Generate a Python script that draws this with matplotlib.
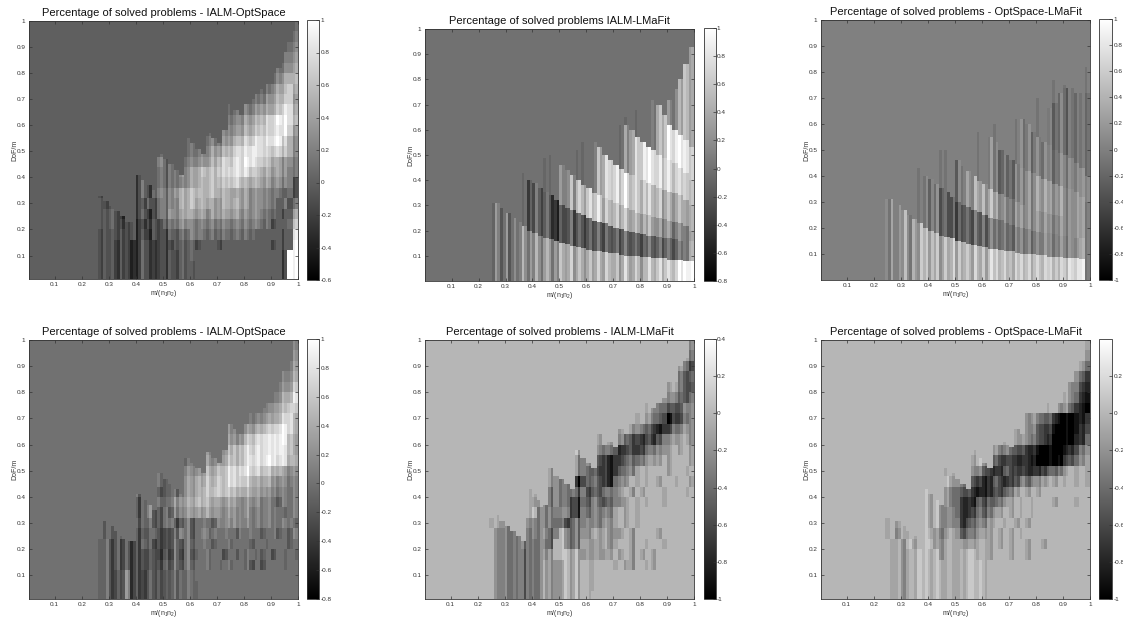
import numpy as np
import matplotlib
matplotlib.use("Agg")
import matplotlib.pyplot as plt

W, H = 1123, 618
plt.rcParams['font.family'] = ['Liberation Sans', 'DejaVu Sans']
plt.rcParams['mathtext.fontset'] = 'custom'
plt.rcParams['mathtext.rm'] = 'Liberation Sans'
plt.rcParams['mathtext.it'] = 'Liberation Sans'

n = np.nan
# Cell codes: '.'=0, '1'..'9'=+0.1..+0.9, 'X'=1, 'a'..'j'=-0.1..-1.0
# Rows run from DoF/m = 1.0 (top) to 0.0 in steps of 0.04; each row is right aligned to
# m/(n1 n2) = 1.0, columns are 0.02 wide and start at 0.24.
ialm_opt_top = [
"1", "2", "13", "124", "1235", "12456", "1134575", "112345674",
"1112234456885",
"11212234456789986",
"1112223345567788974",
"111122234567788899753",
"11.1112234456788988777653",
"21211223345677889977654332",
"a1a111223345666778888765544322",
"a1a11122234556666776555443322a",
".a.a....a1a122345566566555444333221.1a",
"..aa.a..aa1a1233556555445554433322.1a2",
"....ab.aa.ba1243454443444443333211.a.5",
"....aab.bba.b12233222222222222211a..17",
".a.aa.b.bab.ba1.11221111111111.....a.9",
".a.ab.bcb.abbaa....a...a.........a.a.X",
".a.ab.bcb.abba.a...................bXX",
".a.ab.bcb.abba.a..a................bXX",
".a.ab.bcb.abba.a..a................bXX",
]
ialm_opt_bot = [
"1", "2", "13", "124", "1236", "12458", "1134576", "112345784",
"1112345678984",
"11a12235678899963",
"1a11234567788899863",
"a1a122345567888998854",
"1a.a1122344567788776655322",
"a..1b.a1234455667776544432211",
"a1.a.bab.a12345566655544332211.1",
"a.aaab.1b1a1233455443333222211.a1.1",
"aabab.1ba.a1223333322222211111.a.1",
".a.a.b.a.aba.1ca.b.1.a12122111111.11a",
".a.b.bcbab.bcba2.b.2a1.1.a1.1.a.1a.a1",
".a.bbcbcb.bcbcb.b.a.1.a..a...a..a...a.",
".a.bbcbcbbcbcbc.c.ba.a..b.a.a.aa.b.a.a",
".a.bbcbcbbcbbab.b.a..a.a.a..ab.b...a..",
".a.bcb1cbcbbabaa.a....................",
".a.bcb1cbcbbabaa.a.a..................",
".a.bcb1cbcbbabaa.a.a..................",
]
ialm_lma_bot = [
"......ab", "......ac", ".....adf", "....acfd", "...aacfe", "a.bbcdfc",
".........a bcdefecb",
".......a.b cdfigfdb",
"....a.abce fhgfdcbb",
"a.a.bdefgf gecbbaab",
"........a. bdcegfegfd cbba.a.a",
"....a.bcbd eghgfdcdcb aa.a...a",
"aa.bbcbcde fghgdcba.a ...a..a.",
"........a. aabcdfhfdd eghdbb.a.a .a..a..a",
"......a.a. ccbcdcecfe edcca.a.a. ..a...a.",
"........b. ccbcdfgdec dfdcba.a.a ..a.....",
"...bb.a..b cbcbcfgcdc ccca.a.a.. ........",
"a.bbcb.bcb cbdcgdccbc cbba.a.a.. ........",
".bcbdc.ccb bdc1cdcbba aabba.a... .a......",
".bcbdcccdb cd.1cdcaab aaba..a..a ..a.....",
".bcbdcdcdb ba.1.a.bab aba.a.a.a. a.......",
".bcbdcdcdb aaba.a...a ...a.aa..a a.......",
".bcbdcdcdb aaba.a...a .......... ........",
".bcbdcdcdb aaba.a...a .......... ........",
".bcbdcdcdb aaba.a.... .......... ........",
]
opt_lma_bot = [
".......a", ".......b", "......ad", ".....bdg", "....bcfh", "...abdgi",
"a.bbdghj",
".....abbcd egijjihg",
"....aabcef gijjjigf",
"..a.abbdef hjjjjhgd",
"........ab bccdefghij jjjigfcb",
"......a.bc efgfghgijj jjigedba",
".a.a.bbcef hgeffgghgf edcb.a.a",
"........a. a.abcdeghg efhfecdcba aa.a.a.a",
"......a.a. abcdefgihg ffeca.a.a. ........",
"......a.a. bbcdghhefd ecba.a.a.. .a...a..",
"......a.a. bcbdghfdec ba.a.a.a.. ........",
"a.a.a.a.a. bcbcgfdcca a.a.a.a... ........",
"a.b.a.a..b cb.bedcbaa .a.a.a.... ........",
".a.b.a..1b ba.aabaa.a .a.a..a..a ........",
".a.ba.1... ba.a..1a.a ...a..a... ........",
".a.ba.1... .a.a..1... .......... ........",
".a.ba.1... .a.a..1... .......... ........",
".a.ba.1... .a.a..1... .......... ........",
".a.ba.1... .a.a..1... .......... ........",
]

# Top edge of the non-empty region per 0.02-wide column (x = 0.24, 0.26, ... 0.98)
top_ialm_opt_top = [.35,.33,.31,.29,.27,.25,.23,.23,.41,.39,.37,.35,.49,.47,.45,.43,.41,.55,.53,.51,
                    .49,.57,.55,.53,.58,.68,.66,.64,.70,.70,.76,.74,.80,.82,.82,.90,.92,1.0]
top_ialm_opt_bot = [0,.33,.31,.29,.27,.25,.23,.23,.41,.39,.37,.35,.49,.47,.45,.43,.41,.55,.53,.51,
                    .49,.57,.55,.53,.58,.68,.66,.64,.70,.72,.76,.74,.80,.82,.84,.90,.92,1.0]
top_ialm_lma_bot = [.35,.33,.31,.29,.27,.25,.23,.43,.41,.39,.37,.51,.49,.47,.45,.43,.58,.55,.53,.51,
                    .66,.63,.61,.59,.66,.64,.72,.72,.70,.76,.74,.79,.78,.84,.84,.90,.93,1.0]
top_opt_lma_bot = [.35,.33,.31,.29,.27,.25,.23,.43,.41,.39,.37,.51,.49,.47,.45,.43,.58,.55,.53,.51,
                   .66,.63,.61,.59,.66,.64,.74,.72,.74,.80,.78,.84,.84,.88,.90,.92,.96,1.0]

# Fine streaks per 0.01-wide column, added to the cell value (same codes)
streak_ialm_opt_top = "..a.a.1.a.b1.a.b.1a.b.a.1.b.a.a.1a.1.a.1.a.1a.a1..a.1.a1.a.1..a1.a.1.a1..a."
streak_ialm_lma_top = "a2.b.2c.2a.3.c.b2.b.2.c.b2.a.3b.2.b.2a.3.b2.a.2b.3.a.2.b1.3.a.2b.2.b.2.1.a."
streak_opt_lma_top = "b2a.2a3.b2.b3.2a2.3b.2a.3b2a.2.b3.a2b.3.2a.2a.b2.2a.2b.2.a2.1b.a2.b1.a1.1a."
streak_ialm_opt_bot = "...a1.b.2a.2.b.1b.a.2.a.b.1a.2a.a.2.a.1a.2.a.1.a.2.1a.a.2.a.1a..1a.a.1.a.1."
streak_ialm_lma_bot = "..a...b.1a.1b.a1.b.1a.b..a.1.a.1b...a.1.a.1.a..a.a..b...a.1.a.a..a.1.a.1.a."
streak_opt_lma_bot = "..a..a.1.a...1.a.1.a.1.a...a.1.a.1.a.a.1.a.1.a.a.1.a.1.a.a.1.a.a.1.a...a.."

# Curved bands of the two upper panels: band tops and band levels per 0.02-wide column
curve1 = [.31,.31,.29,.27,.25,.235,.22,.20,.19,.18,.17,.165,.16,.15,.145,.14,.135,.13,.125,.12,
          .118,.115,.11,.108,.105,.10,.10,.098,.096,.094,.092,.09,.088,.086,.085,.084,.08,.08]
curve2 = [n,n,n,n,n,n,n,.40,.39,.37,.355,.34,.32,.30,.29,.28,.27,.26,.25,.24,
          .235,.23,.22,.21,.205,.20,.195,.19,.185,.18,.178,.175,.17,.168,.165,.16,.16,.16]
curve3 = [n,n,n,n,n,n,n,n,n,n,n,n,n,.46,.44,.42,.40,.38,.37,.35,
          .34,.33,.32,.31,.30,.29,.28,.27,.265,.26,.255,.25,.245,.24,.235,.23,.22,.20]
curve4 = [n,n,n,n,n,n,n,n,n,n,n,n,n,n,n,n,n,n,n,.55,
          .53,.50,.48,.46,.445,.43,.42,.41,.40,.39,.38,.37,.36,.355,.35,.34,.32,.30]
curve5 = [n,n,n,n,n,n,n,n,n,n,n,n,n,n,n,n,n,n,n,n,
          n,n,n,n,n,.62,.60,.57,.55,.53,.52,.50,.49,.48,.47,.45,.43,.40]
curve6_lma = [n,n,n,n,n,n,n,n,n,n,n,n,n,n,n,n,n,n,n,n,
              n,n,n,n,n,n,n,n,n,n,.72,.70,.66,.62,.60,.58,.56,.53]
curve7_lma = [n,n,n,n,n,n,n,n,n,n,n,n,n,n,n,n,n,n,n,n,
              n,n,n,n,n,n,n,n,n,n,n,n,n,.72,.76,.80,.86,.93]
curve6_opt = [n,n,n,n,n,n,n,n,n,n,n,n,n,n,n,n,n,n,n,n,
              n,n,n,n,n,n,n,n,n,n,.66,.68,.72,.74,.74,.72,.72,.72]

lma_level1 = [.0,.1,.0,.1,.0,.1,.2,.3,.3,.2,.3,.3,.3,.4,.4,.4,.4,.4,.4,.4,
              .4,.5,.5,.4,.4,.5,.4,.5,.4,.5,.5,.6,.6,.6,.7,.8,.9,1.0]
lma_level2 = [n,n,n,n,n,n,n,-.1,-.1,-.15,-.15,-.2,-.4,-.3,-.2,-.2,-.2,-.2,-.2,-.2,
              -.2,-.15,-.15,-.15,-.15,-.15,-.15,-.15,-.15,-.15,-.15,-.1,-.1,-.1,-.1,-.05,.0,.5]
lma_level3 = [n,n,n,n,n,n,n,n,n,n,n,n,n,.1,.2,.3,.5,.5,.6,.6,
              .6,.5,.5,.5,.5,.4,.4,.4,.4,.3,.3,.2,.2,.2,.1,.1,.0,.4]
lma_level4 = [n,n,n,n,n,n,n,n,n,n,n,n,n,n,n,n,n,n,n,.1,
              .3,.6,.7,.7,.7,.7,.6,.6,.6,.5,.5,.5,.4,.4,.4,.4,.3,.5]
lma_level5 = [n,n,n,n,n,n,n,n,n,n,n,n,n,n,n,n,n,n,n,n,
              n,n,n,n,n,.1,.4,.6,.8,.8,.8,.7,.7,.7,.7,.6,.6,.6]
lma_level6 = [n,n,n,n,n,n,n,n,n,n,n,n,n,n,n,n,n,n,n,n,
              n,n,n,n,n,n,n,n,n,n,.1,.4,.6,.8,.9,.8,.8,.7]
lma_level7 = [n,n,n,n,n,n,n,n,n,n,n,n,n,n,n,n,n,n,n,n,
              n,n,n,n,n,n,n,n,n,n,n,n,n,.1,.2,.3,.5,.4]

opt_level1 = [.1,.1,.0,.2,.1,.2,.3,.4,.3,.3,.3,.4,.4,.4,.4,.4,.4,.4,.4,.5,
              .5,.5,.5,.5,.5,.5,.5,.5,.5,.5,.6,.6,.5,.6,.7,.7,.8,.0]
opt_level2 = [n,n,n,n,n,n,n,-.1,-.15,-.15,-.2,-.3,-.4,-.35,-.3,-.3,-.25,-.25,-.2,-.15,
              -.15,-.1,-.1,-.1,-.05,-.05,-.05,-.05,-.05,.05,.05,.05,.05,.05,.1,.1,.3,.0]
opt_level3 = [n,n,n,n,n,n,n,n,n,n,n,n,n,-.1,.0,.1,.2,.3,.3,.3,
              .2,.1,.05,.05,.1,.1,.1,.1,.1,.1,.1,.1,.1,.1,.1,.2,.2,.0]
opt_level4 = [n,n,n,n,n,n,n,n,n,n,n,n,n,n,n,n,n,n,n,-.05,
              -.1,-.2,-.15,-.1,-.05,.0,.1,.1,.2,.2,.2,.2,.2,.1,.1,.2,.2,.0]
opt_level5 = [n,n,n,n,n,n,n,n,n,n,n,n,n,n,n,n,n,n,n,n,
              n,n,n,n,n,-.05,-.05,-.05,-.05,-.05,.0,-.05,.0,.05,.05,.05,.1,.1]
opt_level6 = [n,n,n,n,n,n,n,n,n,n,n,n,n,n,n,n,n,n,n,n,
              n,n,n,n,n,n,n,n,n,n,-.05,-.1,-.1,-.15,-.1,-.1,-.1,-.1]

# Thin faint spikes rising above the bands (0 = none), per 0.02-wide column
spike_lma = [0,0,0,0,0,0,.43,0,0,0,.49,.50,0,0,0,0,.52,.55,0,0,0,0,0,0,.62,.65,0,.68,0,0,0,0,0,0,0,0,0,0]
spike_opt = [0,0,0,0,0,0,.43,0,0,0,.50,.50,0,0,0,0,0,.57,0,0,.60,0,0,0,.62,0,0,0,.70,0,0,.77,0,.75,0,0,0,.82]

titles = ["Percentage of solved problems - IALM-OptSpace",
          "Percentage of solved problems IALM-LMaFit",
          "Percentage of solved problems - OptSpace-LMaFit",
          "Percentage of solved problems - IALM-OptSpace",
          "Percentage of solved problems - IALM-LMaFit",
          "Percentage of solved problems - OptSpace-LMaFit"]
vmins = [-0.6, -0.8, -1.0, -0.8, -1.0, -1.0]
vmaxs = [1.0, 1.0, 1.0, 1.0, 0.4, 0.4]
cbar_ticks = [np.arange(-6, 11, 2) / 10, np.arange(-8, 11, 2) / 10, np.arange(-10, 11, 2) / 10,
              np.arange(-8, 11, 2) / 10, np.arange(-10, 5, 2) / 10, np.arange(-10, 3, 2) / 10]
boxes = [(29, 298, 21, 279, 307, 319, 20, 280),
         (425, 694, 29, 281, 703.5, 715.5, 28, 281),
         (821, 1090, 20, 280, 1099, 1112, 19, 280),
         (29, 298, 340, 599, 307, 319, 339, 599),
         (425, 694, 340, 599, 703.5, 715.5, 339, 599),
         (821, 1090, 340, 599, 1099, 1112, 339, 599)]
xlows = [0.005, 0.001, 0.002, 0.005, 0.005, 0.005]
ylows = [0.01, 0.0, 0.0, 0.01, 0.01, 0.01]

CODES = {'.': 0.0, 'X': 1.0}
CODES.update({str(i): i / 10 for i in range(1, 10)})
CODES.update({c: -(i + 1) / 10 for i, c in enumerate("abcdefghij")})

NCOL = 38
NY = 200
x_edges = np.concatenate([[0.0], np.linspace(0.24, 1.0, 2 * NCOL + 1)])
y_edges = np.linspace(1.0, 0.0, NY + 1)
y_mid = (y_edges[:-1] + y_edges[1:]) / 2


def decode_streak(s):
    s = s.rjust(2 * NCOL, ".")[:2 * NCOL]
    return np.array([CODES[c] for c in s])


def from_rows(rows, top, streak):
    s = decode_streak(streak)
    Z = np.zeros((NY, 2 * NCOL))
    for r, row in enumerate(rows):
        cells = row.replace(" ", "").rjust(NCOL, ".")[-NCOL:]
        for c, ch in enumerate(cells):
            ymax, ymin = 1.0 - 0.04 * r, 1.0 - 0.04 * (r + 1)
            mask = (y_mid <= ymax) & (y_mid > ymin) & (y_mid <= top[c])
            for f in (2 * c, 2 * c + 1):
                val = CODES[ch]
                if val != 0 or c < 19:
                    val = val + s[f]
                Z[mask, f] = val
    return Z


def from_bands(curves, levels, spikes, streak, spike_val):
    s = decode_streak(streak)
    Z = np.zeros((NY, 2 * NCOL))
    for c in range(NCOL):
        low = 0.0
        for cv, lv in zip(curves, levels):
            if np.isnan(cv[c]):
                continue
            mask = (y_mid > low) & (y_mid <= cv[c])
            for f in (2 * c, 2 * c + 1):
                Z[mask, f] = lv[c] + s[f]
            low = max(low, cv[c])
        if spikes[c] > low:
            Z[(y_mid > low) & (y_mid <= spikes[c]), 2 * c] = spike_val
    return Z


grids = [
    from_rows(ialm_opt_top, top_ialm_opt_top, streak_ialm_opt_top),
    from_bands([curve1, curve2, curve3, curve4, curve5, curve6_lma, curve7_lma],
               [lma_level1, lma_level2, lma_level3, lma_level4, lma_level5, lma_level6, lma_level7],
               spike_lma, streak_ialm_lma_top, -0.08),
    from_bands([curve1, curve2, curve3, curve4, curve5, curve6_opt],
               [opt_level1, opt_level2, opt_level3, opt_level4, opt_level5, opt_level6],
               spike_opt, streak_opt_lma_top, -0.1),
    from_rows(ialm_opt_bot, top_ialm_opt_bot, streak_ialm_opt_bot),
    from_rows(ialm_lma_bot, top_ialm_lma_bot, streak_ialm_lma_bot),
    from_rows(opt_lma_bot, top_opt_lma_bot, streak_opt_lma_bot),
]

fig = plt.figure(figsize=(W / 100, H / 100), dpi=100, facecolor='white')
def pos(l, r, t, b):
    return [l / W, 1 - b / H, (r - l) / W, (b - t) / H]

DARK = '#333333'
for i in range(6):
    l, r, t, b, cl, cr, ct, cb = boxes[i]
    ax = fig.add_axes(pos(l, r, t, b))
    Z = np.column_stack([np.zeros(NY), grids[i]])
    mesh = ax.pcolormesh(x_edges, y_edges, Z, cmap='gray',
                         vmin=vmins[i], vmax=vmaxs[i], shading='flat', linewidth=0)
    ax.set_xlim(xlows[i], 1.0)
    ax.set_ylim(ylows[i], 1.0)
    ticks = np.arange(1, 11) / 10
    ax.set_xticks(ticks, [f"{v:g}" for v in ticks])
    ax.set_yticks(ticks, [f"{v:g}" for v in ticks])
    ax.tick_params(direction='in', length=2.2, width=0.5, labelsize=4.6, colors=DARK,
                   top=True, right=True, pad=2.5)
    for s in ax.spines.values():
        s.set_linewidth(0.6)
        s.set_color(DARK)
    ax.set_xlabel(r"m/(n$_1$n$_2$)", fontsize=5, color=DARK, labelpad=0.5)
    ax.set_ylabel("DoF/m", fontsize=5, color=DARK, labelpad=-1.5)
    ax.set_title(titles[i], fontsize=8.0, color='#111111', pad=3.5)

    cax = fig.add_axes(pos(cl, cr, ct, cb))
    cbar = fig.colorbar(mesh, cax=cax, ticks=cbar_ticks[i])
    cbar.ax.set_yticklabels([f"{v:g}" for v in cbar_ticks[i]])
    cbar.ax.tick_params(direction='in', length=2.2, width=0.5, labelsize=4.6, colors=DARK, pad=1)
    cbar.outline.set_linewidth(0.6)
    cbar.outline.set_edgecolor(DARK)

fig.savefig("out.png", dpi=100, facecolor='white')
